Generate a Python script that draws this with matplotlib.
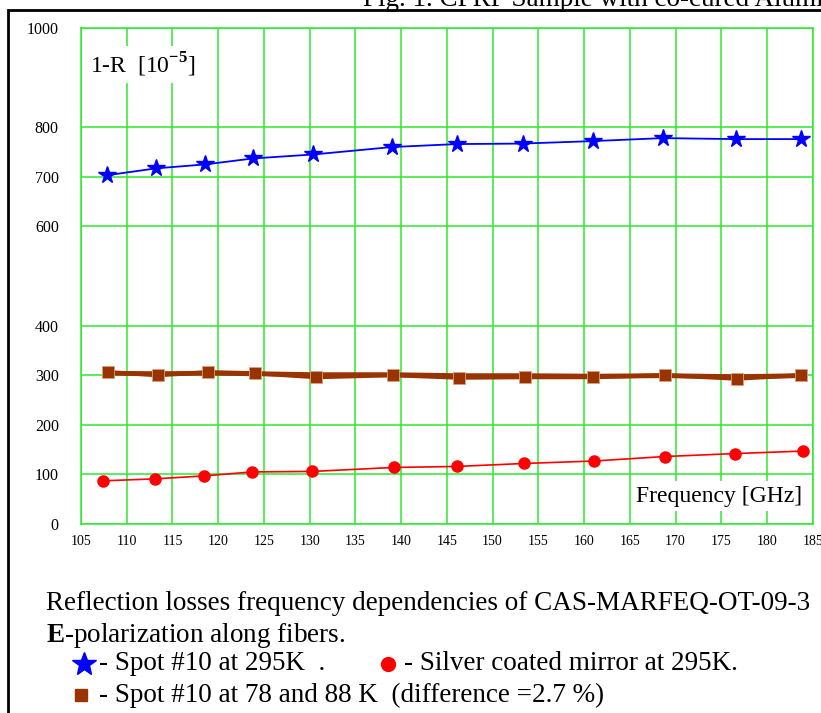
import matplotlib
matplotlib.use('Agg')
import matplotlib.pyplot as plt
from matplotlib.patches import Rectangle

plt.rcParams['font.family'] = ['Liberation Serif', 'DejaVu Serif']
plt.rcParams['mathtext.fontset'] = 'custom'
plt.rcParams['mathtext.rm'] = 'Liberation Serif'
plt.rcParams['mathtext.bf'] = 'Liberation Serif:bold'

# frequencies in GHz, losses in 1e-5
freq_295 = [107.8, 113.2, 118.6, 123.8, 130.4, 139.0, 146.1, 153.3, 161.0, 168.6, 176.6, 183.7]
spot_295 = [703, 717, 725, 737, 745, 760, 766, 767, 772, 778, 776, 776]

freq_mirror = [107.4, 113.1, 118.5, 123.7, 130.3, 139.2, 146.1, 153.4, 161.1, 168.8, 176.5, 183.9]
mirror_295 = [87, 91, 97, 105, 106, 114, 116, 122, 127, 136, 142, 147]

freq_cold = [107.9, 113.4, 118.9, 124.0, 130.7, 139.1, 146.3, 153.5, 161.0, 168.8, 176.7, 183.7]
spot_78 = [306, 300, 306, 304, 296, 300, 295, 296, 296, 300, 293, 300]
spot_88 = [304, 303, 304, 303, 301, 301, 299, 299, 298, 299, 297, 299]

y_ticks = [0, 100, 200, 300, 400, 600, 700, 800, 1000]
x_ticks = list(range(105, 186, 5))

W, H = 821, 713
fig = plt.figure(figsize=(W / 100, H / 100), dpi=100)

# outer frame and clipped title
fig.patches.append(Rectangle((8 / W, -0.1), 1.2, (H - 9.5) / H + 0.1,
                             transform=fig.transFigure, fill=False,
                             edgecolor='black', lw=2))
fig.text(363 / W, (H - 6.5) / H, 'Fig. 1. CFRP Sample with co-cured Aluminum',
         fontsize=19.5, ha='left', va='baseline')

ax = fig.add_axes([81 / W, 1 - 524 / H, (812.7 - 81) / W, (524 - 28) / H])
grid_col = '#2ee82e'
ax.set_xlim(105, 185)
ax.set_ylim(0, 1000)
ax.set_xticks(x_ticks)
ax.set_yticks(y_ticks)
ax.grid(True, color=grid_col, lw=1.1)
for sp in ax.spines.values():
    sp.set_color(grid_col)
    sp.set_linewidth(1.1)
ax.tick_params(axis='both', length=0)
ax.tick_params(axis='y', pad=16, labelsize=11.5)
ax.tick_params(axis='x', pad=8, labelsize=10)

ax.plot(freq_295, spot_295, color='blue', lw=1.3, marker='*', ms=13,
        markeredgecolor='blue')
ax.plot(freq_cold, spot_88, color='#993300', lw=3.5)
ax.plot(freq_cold, spot_78, color='#993300', lw=3, marker='s', ms=8.5,
        markeredgecolor='#d8a080', markeredgewidth=0.6)
ax.plot(freq_mirror, mirror_295, color='red', lw=1.2, marker='o', ms=8,
        markeredgecolor='red')

ax.text(0.012, 0.955, r'1-R  [10$^{\mathbf{-5}}$]', transform=ax.transAxes,
        fontsize=17, ha='left', va='top',
        bbox=dict(facecolor='white', edgecolor='none', pad=3))
ax.text(0.985, 0.035, 'Frequency [GHz]', transform=ax.transAxes,
        fontsize=17, ha='right', va='bottom',
        bbox=dict(facecolor='white', edgecolor='none', pad=3))

# caption below the plot
fs = 19.5
fig.text(46 / W, 1 - 603 / H,
         'Reflection losses frequency dependencies of CAS-MARFEQ-OT-09-3',
         fontsize=fs, ha='left', va='center')
fig.text(46 / W, 1 - 636 / H, r'$\mathbf{E}$-polarization along fibers.',
         fontsize=fs, ha='left', va='center')

fig.lines.append(plt.Line2D([84 / W], [1 - 664 / H], marker='*', ms=18,
                            color='blue', transform=fig.transFigure))
fig.text(99 / W, 1 - 664 / H, '- Spot #10 at 295K  .', fontsize=fs,
         ha='left', va='center')
fig.lines.append(plt.Line2D([388 / W], [1 - 664 / H], marker='o', ms=10,
                            color='red', transform=fig.transFigure))
fig.text(404 / W, 1 - 664 / H, '- Silver coated mirror at 295K.', fontsize=fs,
         ha='left', va='center')
fig.lines.append(plt.Line2D([81 / W], [1 - 695 / H], marker='s', ms=9,
                            color='#993300', transform=fig.transFigure))
fig.text(99 / W, 1 - 695 / H, '- Spot #10 at 78 and 88 K  (difference =2.7 %)',
         fontsize=fs, ha='left', va='center')

fig.savefig('out.png', dpi=100)
